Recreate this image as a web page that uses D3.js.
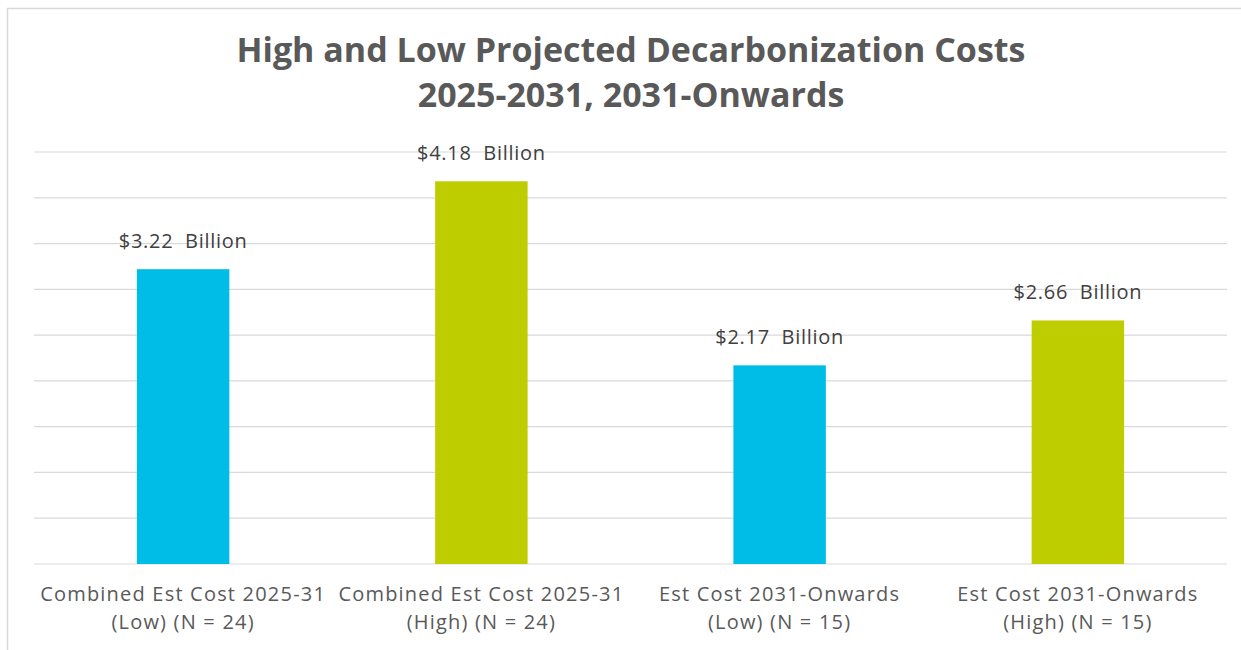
<!DOCTYPE html>
<html>
<head>
<meta charset="utf-8">
<script src="https://cdn.jsdelivr.net/npm/d3@7"></script>
<style>
  body { margin: 0; background: #fff; }
  svg { display: block; }
</style>
</head>
<body>
<script>
(function() {

    var width = 1241;
    var height = 650;

    // chart values
    const categories = [
        ["Combined Est Cost 2025-31", "(Low) (N = 24)"],
        ["Combined Est Cost 2025-31", "(High) (N = 24)"],
        ["Est Cost 2031-Onwards", "(Low) (N = 15)"],
        ["Est Cost 2031-Onwards", "(High) (N = 15)"]
    ];
    const values = [3.22, 4.18, 2.17, 2.66];
    const barColors = ["#00BDE8", "#BDCD00", "#00BDE8", "#BDCD00"];
    const gridTicks = [0, 0.5, 1, 1.5, 2, 2.5, 3, 3.5, 4, 4.5];
    const titleLines = ["High and Low Projected Decarbonization Costs", "2025-2031, 2031-Onwards"];

    const svg = d3.select("body")
      .append("svg")
      .attr("width", width)
      .attr("height", height);

    // chart frame (cut off at right and bottom like the screenshot)
    svg.append("rect")
        .attr("x", 7.5).attr("y", 8.5)
        .attr("width", 1260).attr("height", 700)
        .attr("fill", "#fff")
        .attr("stroke", "#d9d9d9")
        .attr("stroke-width", 1.5);

    const x = d3.scaleBand()
        .domain(d3.range(categories.length))
        .range([34, 1227])
        .padding(0);

    const y = d3.scaleLinear()
        .domain([0, 4.5])
        .range([564, 152]);

    //gridlines
    svg.selectAll("line.grid")
        .data(gridTicks)
        .enter()
        .append("line")
        .attr("class", "grid")
        .attr("x1", 34)
        .attr("x2", 1227)
        .attr("y1", d => y(d))
        .attr("y2", d => y(d))
        .attr("stroke", "#d9d9d9")
        .attr("stroke-width", 1.2);

    const barW = x.bandwidth() * 0.31;

    //bars
    svg.selectAll("rect.bar")
        .data(values)
        .enter()
        .append("rect")
        .attr("class", "bar")
        .attr("x", (d, i) => x(i) + x.bandwidth() / 2 - barW / 2)
        .attr("y", d => y(d))
        .attr("width", barW)
        .attr("height", d => y(0) - y(d))
        .attr("fill", (d, i) => barColors[i]);

    //value labels
    svg.selectAll("text.val")
        .data(values)
        .enter()
        .append("text")
        .attr("class", "val")
        .attr("x", (d, i) => x(i) + x.bandwidth() / 2)
        .attr("y", d => y(d) - 21)
        .attr("text-anchor", "middle")
        .attr("font-family", "'Open Sans', sans-serif")
        .attr("font-size", 20)
        .attr("letter-spacing", 0.7)
        .attr("fill", "#404040")
        .attr("xml:space", "preserve")
        .text(d => "$" + d.toFixed(2) + "  Billion");

    //category labels
    const cat = svg.selectAll("text.cat")
        .data(categories)
        .enter()
        .append("text")
        .attr("class", "cat")
        .attr("text-anchor", "middle")
        .attr("font-family", "'Open Sans', sans-serif")
        .attr("font-size", 20)
        .attr("letter-spacing", 1.2)
        .attr("fill", "#595959");

    cat.selectAll("tspan")
        .data((d, i) => d.map(line => ({ line: line, i: i })))
        .enter()
        .append("tspan")
        .attr("x", d => x(d.i) + x.bandwidth() / 2)
        .attr("y", (d, j) => 601 + j * 28)
        .text(d => d.line);

    //title
    svg.selectAll("text.title")
        .data(titleLines)
        .enter()
        .append("text")
        .attr("class", "title")
        .attr("x", 631)
        .attr("y", (d, i) => 62 + i * 45)
        .attr("text-anchor", "middle")
        .attr("font-family", "'Open Sans', sans-serif")
        .attr("font-weight", "bold")
        .attr("font-size", 34)
        .attr("fill", "#595959")
        .text(d => d);

})();
</script>
</body>
</html>
